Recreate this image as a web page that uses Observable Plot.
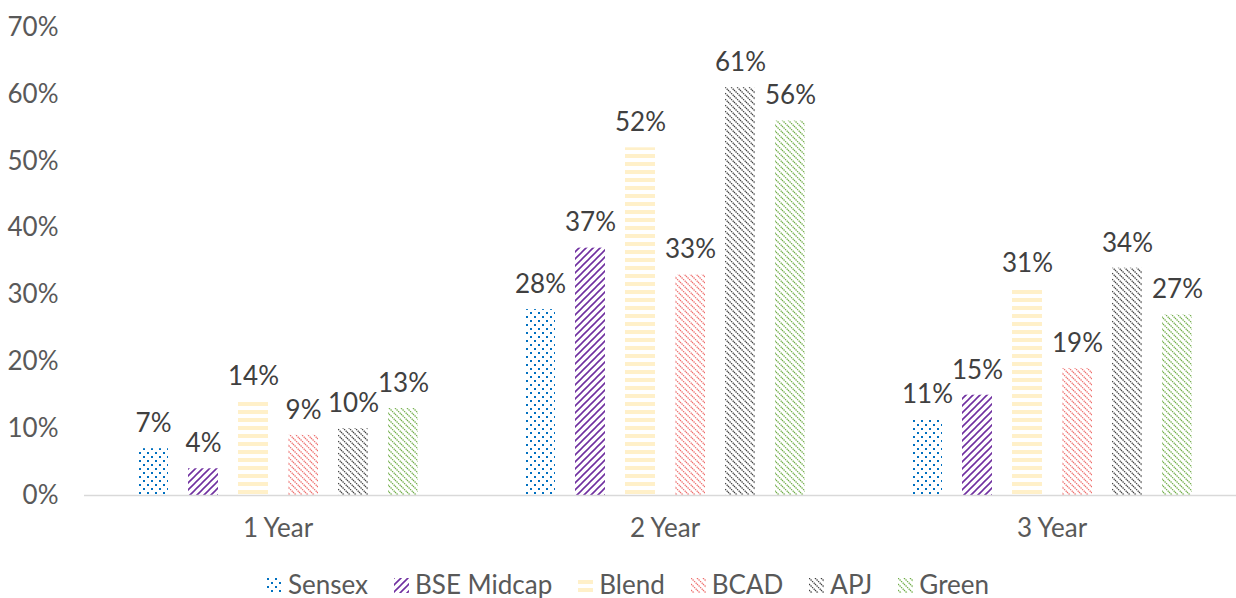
<!DOCTYPE html>
<html>
<head>
<meta charset="utf-8">
<script src="https://cdn.jsdelivr.net/npm/d3@7"></script>
<script src="https://cdn.jsdelivr.net/npm/@observablehq/plot@0.6"></script>
<style>
  body { margin: 0; background: #fff; font-family: Lato, "Open Sans", sans-serif; overflow: hidden; }
  #chart { width: 1236px; overflow: hidden; }
  #legend { display: flex; justify-content: center; align-items: center; gap: 26px; height: 36px; font-size: 26px; font-weight: 400; color: #595959; margin-left: 20px; }
  #legend .item { display: flex; align-items: center; gap: 6px; }
  #legend svg { display: block; margin-top: 2px; }
</style>
</head>
<body>
<svg width="0" height="0" style="position:absolute">
  <defs>
    <pattern id="p-sensex" patternUnits="userSpaceOnUse" width="8" height="8">
      <rect x="0" y="0" width="2" height="2" fill="#0070C0"/>
      <rect x="4" y="4" width="2" height="2" fill="#0070C0"/>
    </pattern>
    <pattern id="p-bse" patternUnits="userSpaceOnUse" width="7" height="7">
      <path d="M0,7 L7,0 M-1,1 L1,-1 M6,8 L8,6" stroke="#7030A0" stroke-width="1.6"/>
    </pattern>
    <pattern id="p-blend" patternUnits="userSpaceOnUse" width="8" height="8">
      <rect x="0" y="2" width="8" height="4" fill="#FFF0C9"/>
    </pattern>
    <pattern id="p-bcad" patternUnits="userSpaceOnUse" width="6" height="6">
      <path d="M0,0 L6,6 M-1,5 L1,7 M5,-1 L7,1" stroke="#EE6F6D" stroke-width="1.3" stroke-dasharray="1.4,0.8"/>
    </pattern>
    <pattern id="p-apj" patternUnits="userSpaceOnUse" width="6" height="6">
      <path d="M0,0 L6,6 M-1,5 L1,7 M5,-1 L7,1" stroke="#404040" stroke-width="1.3" stroke-dasharray="1.4,0.8"/>
    </pattern>
    <pattern id="p-green" patternUnits="userSpaceOnUse" width="6" height="6">
      <path d="M0,0 L6,6 M-1,5 L1,7 M5,-1 L7,1" stroke="#70AD47" stroke-width="1.3" stroke-dasharray="1.4,0.8"/>
    </pattern>
  </defs>
</svg>
<div id="chart"></div>
<div id="legend"></div>
<script>
const periods = ["1 Year", "2 Year", "3 Year"];
const series = ["Sensex", "BSE Midcap", "Blend", "BCAD", "APJ", "Green"];
const year1 = [7, 4, 14, 9, 10, 13];
const year2 = [27.8, 37, 52, 33, 61, 56];
const year3 = [11.4, 15, 31, 19, 34, 27];
const yTicks = [0, 10, 20, 30, 40, 50, 60, 70];
const patternIds = ["p-sensex", "p-bse", "p-blend", "p-bcad", "p-apj", "p-green"];

const valuesByPeriod = [year1, year2, year3];
const data = [];
periods.forEach((p, i) => series.forEach((s, j) => data.push({period: p, series: s, value: valuesByPeriod[i][j]})));

const chart = Plot.plot({
  width: 1236,
  height: 566,
  marginLeft: 85,
  marginRight: 0,
  marginTop: 27,
  marginBottom: 71,
  style: {fontFamily: "Lato, 'Open Sans', sans-serif", fontSize: "26px", fontWeight: 400, color: "#595959", background: "#fff", overflow: "hidden"},
  fx: {domain: periods, range: [84, 1245], padding: 0, label: null, tickSize: 0, tickPadding: 23},
  x: {domain: series, axis: null, paddingInner: 0.4, paddingOuter: 1.07},
  y: {domain: [0, 70], ticks: yTicks, tickFormat: d => d + "%", tickSize: 0, tickPadding: 26, label: null},
  color: {domain: series, range: patternIds.map(id => `url(#${id})`)},
  marks: [
    Plot.barY(data, {fx: "period", x: "series", y: "value", fill: "series"}),
    Plot.ruleY([0], {stroke: "#D9D9D9", strokeWidth: 1.5}),
    Plot.text(data, {fx: "period", x: "series", y: "value", text: d => Math.round(d.value) + "%", lineAnchor: "middle", dy: -25, fontSize: 26, fontWeight: 400, fill: "#404040"})
  ]
});
document.getElementById("chart").appendChild(chart);

const legend = d3.select("#legend");
series.forEach((s, i) => {
  const item = legend.append("div").attr("class", "item");
  const sw = item.append("svg").attr("width", 15).attr("height", 15);
  sw.append("rect").attr("width", 15).attr("height", 15).attr("fill", `url(#${patternIds[i]})`);
  item.append("span").text(s);
});
</script>
</body>
</html>
